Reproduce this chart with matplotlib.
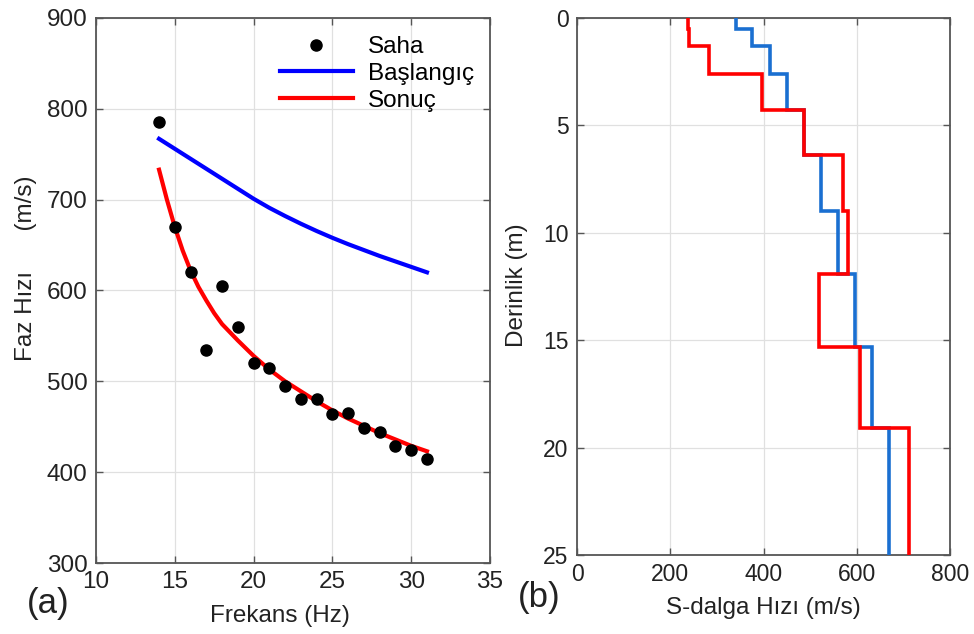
import numpy as np
import matplotlib.pyplot as plt

plt.rcParams['font.family'] = ['Liberation Sans', 'DejaVu Sans']

# (a) dispersiyon egrisi
frekans_saha = [14, 15, 16, 17, 18, 19, 20, 21, 22, 23, 24, 25, 26, 27, 28, 29, 30, 31]
hiz_saha = [785, 670, 620, 535, 605, 560, 520, 515, 495, 480, 480, 464, 465, 449, 444, 429, 424, 414]

frekans_baslangic = [14, 15, 16, 17, 18, 19, 20, 21, 22, 23, 24, 25, 26, 27, 28, 29, 30, 31]
hiz_baslangic = [767, 756, 745, 734, 723, 712, 701, 691, 682, 673.5, 665.5, 658, 651, 644.5, 638, 632, 626, 620]

frekans_sonuc = [14, 14.5, 15, 15.5, 16, 16.5, 17, 17.5, 18, 19, 20, 21, 22, 23, 24, 25, 26, 27, 28, 29, 30, 31]
hiz_sonuc = [733, 700, 670, 644, 622, 604, 589, 575, 563, 545, 528, 513, 500, 489, 478, 468, 459, 451, 443, 436, 429, 423]

# (b) Vs profili
derinlik_sinir = [0, 0.5, 1.3, 2.6, 4.3, 6.4, 9.0, 11.9, 15.3, 19.1, 25]
vs_baslangic = [340, 376, 413, 450, 487, 524, 560, 597, 633, 669]
vs_sonuc = [238, 241, 283, 396, 487, 571, 582, 519, 607, 713]

kirmizi = '#ff0000'
mavi = '#0000ff'
mavi_b = '#1a6fd1'
cerceve = '#555555'
yazi = '#222222'

W, H = 974, 634
fig = plt.figure(figsize=(W / 100, H / 100), dpi=100)
ax1 = fig.add_axes([96 / W, 1 - 563 / H, 394 / W, 545 / H])
ax2 = fig.add_axes([577 / W, 1 - 555 / H, 373 / W, 537 / H])

def stil(ax, boyut):
    ax.grid(True, color='#e0e0e0', linewidth=0.9)
    ax.set_axisbelow(True)
    for s in ax.spines.values():
        s.set_color(cerceve)
        s.set_linewidth(1.3)
    ax.tick_params(direction='in', top=True, right=True, length=5, width=1,
                   color=cerceve, labelsize=boyut, labelcolor=yazi, pad=6)

def yaz(x, y, metin, **kw):
    # piksel konumundan figur koordinatina
    fig.text(x / W, 1 - y / H, metin, ha='center', va='center', color=yazi, **kw)

# sol panel
ax1.plot(frekans_baslangic, hiz_baslangic, color=mavi, lw=3, label='Başlangıç', zorder=3)
ax1.plot(frekans_sonuc, hiz_sonuc, color=kirmizi, lw=3, label='Sonuç', zorder=3)
ax1.plot(frekans_saha, hiz_saha, 'o', color='black', ms=8, label='Saha', zorder=4)
ax1.set_xlim(10, 35)
ax1.set_ylim(300, 900)
ax1.set_xticks([10, 15, 20, 25, 30, 35])
ax1.set_yticks([300, 400, 500, 600, 700, 800, 900])
stil(ax1, 17.5)
h, l = ax1.get_legend_handles_labels()
ax1.legend([h[2], h[0], h[1]], [l[2], l[0], l[1]], loc='upper left', frameon=False,
           fontsize=17.5, handlelength=3.0, handletextpad=0.6, borderpad=0,
           borderaxespad=0, labelspacing=0.2,
           bbox_to_anchor=(280 / W, 1 - 36 / H), bbox_transform=fig.transFigure)
yaz(280, 616, 'Frekans (Hz)', fontsize=17.5)
yaz(26, 268, 'Faz Hızı      (m/s)', fontsize=17.5, rotation=90)
yaz(48, 604, '(a)', fontsize=25)

# sag panel
ax2.stairs(vs_baslangic, derinlik_sinir, orientation='horizontal', baseline=None,
           color=mavi_b, lw=2.6, zorder=3)
ax2.stairs(vs_sonuc, derinlik_sinir, orientation='horizontal', baseline=None,
           color=kirmizi, lw=2.6, zorder=4)
ax2.set_xlim(0, 800)
ax2.set_ylim(25, 0)
ax2.set_xticks([0, 200, 400, 600, 800])
ax2.set_yticks([0, 5, 10, 15, 20, 25])
stil(ax2, 16.5)
yaz(763, 608, 'S-dalga Hızı (m/s)', fontsize=17.5)
yaz(517, 285, 'Derinlik (m)', fontsize=17.5, rotation=90)
yaz(539, 598, '(b)', fontsize=25)

fig.savefig('out.png', dpi=100)
